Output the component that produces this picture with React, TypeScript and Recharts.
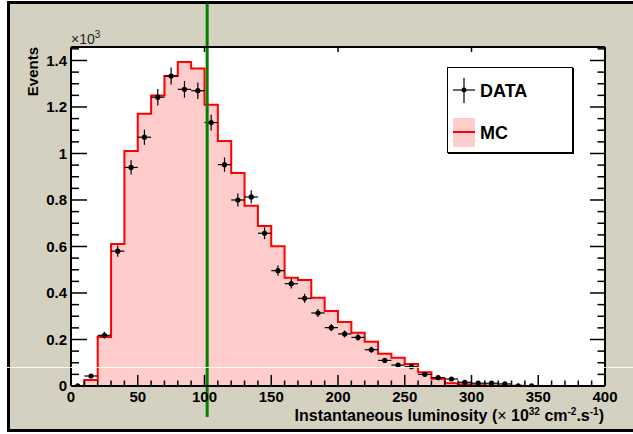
import {
  ComposedChart,
  Area,
  Scatter,
  ErrorBar,
  XAxis,
  YAxis,
  CartesianGrid,
  ReferenceLine,
  Legend,
  Label,
} from 'recharts';

// MC histogram: bin low edges (width 10) and contents (x10^3 events)
const mcLowEdges = [
  0, 10, 20, 30, 40, 50, 60, 70, 80, 90, 100, 110, 120, 130, 140, 150, 160, 170, 180, 190,
  200, 210, 220, 230, 240, 250, 260, 270, 280, 290, 300, 310, 320, 330, 340, 350, 360, 370, 380, 390,
];
const mcValues = [
  0, 0.026, 0.211, 0.611, 1.011, 1.171, 1.249, 1.333, 1.394, 1.365, 1.21, 1.054, 0.916, 0.775,
  0.688, 0.601, 0.466, 0.456, 0.38, 0.323, 0.275, 0.229, 0.19, 0.139, 0.122, 0.095, 0.059, 0.031,
  0.012, 0.007, 0.003, 0.002, 0.001, 0.001, 0, 0, 0, 0, 0, 0,
];
const xMax = 400;

// DATA points: bin centres, contents and errors
const dataCenters = [
  5, 15, 25, 35, 45, 55, 65, 75, 85, 95, 105, 115, 125, 135, 145, 155, 165, 175, 185, 195,
  205, 215, 225, 235, 245, 255, 265, 275, 285, 295, 305, 315, 325, 335, 345,
];
const dataValues = [
  0.001, 0.043, 0.218, 0.58, 0.94, 1.07, 1.242, 1.333, 1.276, 1.27, 1.133, 0.952, 0.8, 0.813,
  0.657, 0.496, 0.44, 0.377, 0.314, 0.251, 0.224, 0.209, 0.156, 0.11, 0.09, 0.083, 0.05, 0.036,
  0.03, 0.016, 0.012, 0.012, 0.009, 0.001, 0.001,
];
const dataErrors = [
  0.001, 0.0066, 0.0148, 0.0241, 0.0307, 0.0327, 0.0352, 0.0365, 0.0357, 0.0356, 0.0337, 0.0309,
  0.0283, 0.0285, 0.0256, 0.0223, 0.021, 0.0194, 0.0177, 0.0158, 0.015, 0.0145, 0.0125, 0.0105,
  0.0095, 0.0091, 0.0071, 0.006, 0.0055, 0.004, 0.0035, 0.0035, 0.003, 0.001, 0.001,
];
const binHalfWidth = 5;

const cutValue = 102;
const yMax = 1.458;
const xTicks = Array.from({ length: 41 }, (_, i) => i * 10);
const yTicks = Array.from({ length: 30 }, (_, i) => i * 0.05);

const legendItems = ['DATA', 'MC'];

const mcData = [
  ...mcLowEdges.map((x, i) => ({ x, mc: mcValues[i] })),
  { x: xMax, mc: 0 },
];
const pointData = dataCenters.map((x, i) => ({
  x,
  y: dataValues[i],
  ey: dataErrors[i],
  ex: binHalfWidth,
}));

const FONT = '"Liberation Sans", Arial, Helvetica, sans-serif';
const BEIGE = '#d5d1c0';

const isMajorX = (v: number) => Math.round(v) % 50 === 0;
const isMajorY = (v: number) => Math.round(v * 100) % 20 === 0;

const BottomTick = ({ x, y, payload }: any) => {
  const major = isMajorX(payload.value);
  return (
    <g>
      <line x1={x} x2={x} y1={y} y2={y - (major ? 11 : 5.5)} stroke="#000" strokeWidth={1.5} />
      {major && (
        <text x={x} y={y + 16} textAnchor="middle" fontFamily={FONT} fontWeight="bold" fontSize={15} fill="#000">
          {payload.value}
        </text>
      )}
    </g>
  );
};

const TopTick = ({ x, y, payload }: any) => {
  const major = isMajorX(payload.value);
  return <line x1={x} x2={x} y1={y} y2={y + (major ? 10 : 5)} stroke="#000" strokeWidth={1.5} />;
};

const LeftTick = ({ x, y, payload }: any) => {
  const major = isMajorY(payload.value);
  return (
    <g>
      <line x1={x} x2={x + (major ? 16 : 8)} y1={y} y2={y} stroke="#000" strokeWidth={1.5} />
      {major && (
        <text x={x - 4} y={y} dy="0.36em" textAnchor="end" fontFamily={FONT} fontWeight="bold" fontSize={15} fill="#000">
          {Number(payload.value.toFixed(2)).toString()}
        </text>
      )}
    </g>
  );
};

const RightTick = ({ x, y, payload }: any) => {
  const major = isMajorY(payload.value);
  return <line x1={x} x2={x - (major ? 15 : 7.5)} y1={y} y2={y} stroke="#000" strokeWidth={1.5} />;
};

const XTitle = ({ viewBox }: any) => {
  const right = viewBox.x + viewBox.width - 1;
  const base = viewBox.y + 35;
  return (
    <text x={right} y={base} textAnchor="end" fontFamily={FONT} fontWeight="bold" fontSize={16} fill="#000">
      Instantaneous luminosity (
      <tspan fontWeight="normal">×</tspan> 10
      <tspan dy={-6} fontSize={10}>32</tspan>
      <tspan dy={6}> cm</tspan>
      <tspan dy={-6} fontSize={10}>-2</tspan>
      <tspan dy={6}>.s</tspan>
      <tspan dy={-6} fontSize={10}>-1</tspan>
      <tspan dy={6}>)</tspan>
    </text>
  );
};

const YTitle = ({ viewBox }: any) => {
  const top = viewBox.y;
  const bx = 37.5;
  return (
    <g>
      <text
        x={bx}
        y={top}
        transform={`rotate(-90, ${bx}, ${top})`}
        textAnchor="end"
        fontFamily={FONT}
        fontWeight="bold"
        fontSize={15}
        fill="#000"
      >
        Events
      </text>
      <text x={viewBox.x + viewBox.width} y={top - 3} fontFamily={FONT} fontSize={14} fill="#222">
        ×10
        <tspan dy={-6} fontSize={10}>3</tspan>
      </text>
    </g>
  );
};

const CutLine = (p: any) => {
  const top = Math.min(p.y1, p.y2);
  const bottom = Math.max(p.y1, p.y2);
  return <line x1={p.x1} x2={p.x2} y1={top - 43} y2={bottom + 31} stroke="#008000" strokeWidth={3} />;
};

const DataDot = (p: any) => <circle cx={p.cx} cy={p.cy} r={2.6} fill="#000" />;

const LegendBox = () => (
  <div
    style={{
      width: 126,
      height: 86,
      boxSizing: 'border-box',
      background: '#fff',
      border: '1px solid #000',
      boxShadow: '1px 1px 0 #000',
      position: 'relative',
      fontFamily: FONT,
      fontWeight: 'bold',
      fontSize: 18,
      color: '#000',
    }}
  >
    <svg width={30} height={86} style={{ position: 'absolute', left: 0, top: 0 }}>
      <line x1={5} x2={27} y1={22} y2={22} stroke="#000" strokeWidth={1.2} />
      <line x1={16} x2={16} y1={10} y2={35} stroke="#000" strokeWidth={1.2} />
      <circle cx={16} cy={22} r={2.4} fill="#000" />
      <rect x={5} y={50} width={22} height={29} fill="#ffcccc" />
      <line x1={5} x2={27} y1={64} y2={64} stroke="#ff0000" strokeWidth={2} />
    </svg>
    <div style={{ position: 'absolute', left: 32, top: 12, lineHeight: '22px' }}>{legendItems[0]}</div>
    <div style={{ position: 'absolute', left: 32, top: 54, lineHeight: '22px' }}>{legendItems[1]}</div>
  </div>
);

export default function App() {
  return (
    <div style={{ position: 'absolute', left: 0, top: 0, width: 633, height: 434, overflow: 'hidden', background: '#fff' }}>
      <div
        style={{
          position: 'absolute',
          left: 7,
          top: 1,
          width: 640,
          height: 431,
          boxSizing: 'border-box',
          border: '3px solid #000',
          background: BEIGE,
        }}
      />
      <div style={{ position: 'absolute', left: 0, top: 0 }}>
        <ComposedChart width={633} height={434} data={mcData} margin={{ top: 0, right: 0, bottom: 0, left: 0 }}>
          <CartesianGrid fill="#fff" horizontal={false} vertical={false} stroke="none" />
          <Area
            type="stepAfter"
            dataKey="mc"
            name="MC"
            stroke="#ff0000"
            strokeWidth={2}
            fill="#ffcccc"
            fillOpacity={1}
            dot={false}
            activeDot={false}
            isAnimationActive={false}
          />
          <Scatter data={pointData} dataKey="y" name="DATA" shape={DataDot} isAnimationActive={false}>
            <ErrorBar dataKey="ex" direction="x" width={0} stroke="#000" strokeWidth={1.2} />
            <ErrorBar dataKey="ey" direction="y" width={0} stroke="#000" strokeWidth={1.2} />
          </Scatter>
          <ReferenceLine x={cutValue} shape={CutLine} />
          <XAxis
            dataKey="x"
            type="number"
            domain={[0, xMax]}
            allowDataOverflow
            ticks={xTicks}
            interval={0}
            height={48}
            tickSize={0}
            tickMargin={0}
            tickLine={false}
            axisLine={{ stroke: '#000', strokeWidth: 2 }}
            tick={<BottomTick />}
          >
            <Label content={<XTitle />} />
          </XAxis>
          <XAxis
            xAxisId="top"
            orientation="top"
            type="number"
            domain={[0, xMax]}
            allowDataOverflow
            ticks={xTicks}
            interval={0}
            height={47}
            tickSize={0}
            tickMargin={0}
            tickLine={false}
            axisLine={{ stroke: '#000', strokeWidth: 2 }}
            tick={<TopTick />}
          />
          <YAxis
            type="number"
            domain={[0, yMax]}
            allowDataOverflow
            ticks={yTicks}
            interval={0}
            width={71}
            tickSize={0}
            tickMargin={0}
            tickLine={false}
            axisLine={{ stroke: '#000', strokeWidth: 2 }}
            tick={<LeftTick />}
          >
            <Label content={<YTitle />} />
          </YAxis>
          <YAxis
            yAxisId="right"
            orientation="right"
            type="number"
            domain={[0, yMax]}
            allowDataOverflow
            ticks={yTicks}
            interval={0}
            width={28}
            tickSize={0}
            tickMargin={0}
            tickLine={false}
            axisLine={{ stroke: '#000', strokeWidth: 2 }}
            tick={<RightTick />}
          />
          <Legend
            layout="vertical"
            align="center"
            verticalAlign="middle"
            content={<LegendBox />}
            wrapperStyle={{ left: 447, top: 67, width: 126, height: 86 }}
          />
        </ComposedChart>
      </div>
      <div style={{ position: 'absolute', left: 0, top: 367, width: 633, height: 1, background: '#fff', opacity: 0.9 }} />
    </div>
  );
}
